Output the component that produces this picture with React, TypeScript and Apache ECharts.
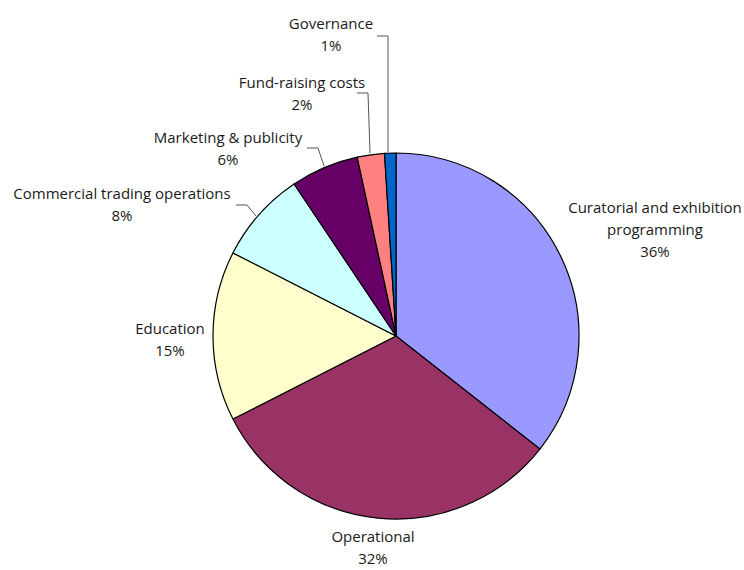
import React, { useEffect, useRef } from "react";
import * as echarts from "echarts";

const categories = [
  "Curatorial and exhibition\nprogramming",
  "Operational",
  "Education",
  "Commercial trading operations",
  "Marketing & publicity",
  "Fund-raising costs",
  "Governance",
];
const values = [35.6, 31.9, 15.0, 8.1, 6.0, 2.4, 1.0];
const colors = ["#9999FF", "#993366", "#FFFFCC", "#CCFFFF", "#660066", "#FF8080", "#0066CC"];

// label layout (x, y centre of label) and leader lines
const labelPos: number[][] = [
  [655, 229],
  [373, 547],
  [170, 339],
  [122, 204],
  [228, 148],
  [302, 93],
  [331, 34],
];
const leaderLines: (number[][] | null)[] = [
  null,
  null,
  null,
  [[256, 216], [247, 205], [236, 205]],
  [[324, 166], [318, 148], [307, 148]],
  [[370, 153], [368, 93], [357, 93]],
  [[388, 152], [388, 36], [377, 36]],
];

export default function App() {
  const ref = useRef<HTMLDivElement>(null);
  useEffect(() => {
    document.body.style.margin = "0";
    const chart = echarts.init(ref.current!, null, { renderer: "svg" });
    chart.setOption({
      animation: false,
      backgroundColor: "#ffffff",
      series: [
        {
          type: "pie",
          center: [396, 336],
          radius: 183,
          startAngle: 90,
          clockwise: true,
          avoidLabelOverlap: false,
          itemStyle: { borderColor: "#000", borderWidth: 1.2 },
          emphasis: { disabled: true },
          label: {
            show: true,
            color: "#1a1a1a",
            fontFamily: "'Open Sans', sans-serif",
            fontSize: 15,
            lineHeight: 22,
            align: "center",
            formatter: (p: any) => `${p.name}\n${Math.round(p.percent)}%`,
          },
          labelLine: { show: true, lineStyle: { color: "#555", width: 1 } },
          labelLayout: (p: any) => {
            const i = p.dataIndex;
            const res: any = {
              x: labelPos[i][0],
              y: labelPos[i][1],
              align: "center",
              verticalAlign: "middle",
            };
            if (leaderLines[i]) res.labelLinePoints = leaderLines[i];
            return res;
          },
          data: categories.map((c, i) => ({
            name: c,
            value: values[i],
            itemStyle: { color: colors[i] },
            labelLine: { show: !!leaderLines[i] },
          })),
        },
      ],
    });
    return () => chart.dispose();
  }, []);
  return <div ref={ref} style={{ width: 744, height: 570 }} />;
}
